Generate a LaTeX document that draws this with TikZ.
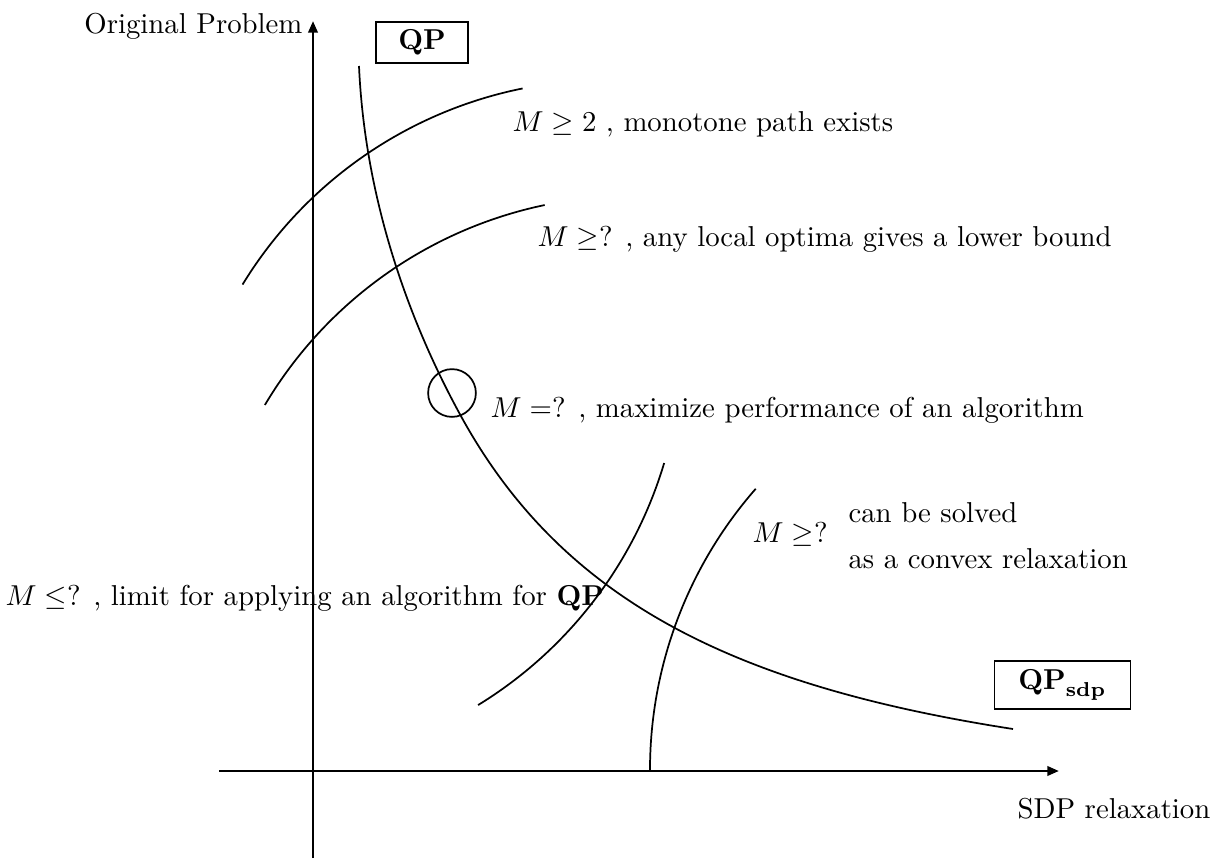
\documentclass[tikz,border=0pt]{standalone}
\usepackage{amsmath, amssymb}
\usepackage{tikz}
\usetikzlibrary{arrows.meta}

\begin{document}
\begin{tikzpicture}[x=0.3475pt,y=-0.3475pt,
    >={Stealth[inset=0pt,length=4pt,width=3.2pt]},
    lbl/.style={inner sep=0pt,anchor=base west},
    qpbox/.style={draw,thin,inner sep=0pt,font=\bfseries},
    axis/.style={->,line width=0.9pt},
    curve/.style={line width=0.6pt}]
  \useasboundingbox (0,0) rectangle (1216,862);
  % axes
  \coordinate (ybot) at (313,858);
  \coordinate (ytip) at (313,21);
  \coordinate (xleft) at (219,771);
  \coordinate (xtip) at (1059,771);
  \draw[axis] (ybot) -- (ytip);
  \draw[axis] (xleft) -- (xtip);
  \node[inner sep=0pt,anchor=base east] (orig) at (303,33) {Original Problem};
  \node[lbl] (relax) at (1017,818) {SDP relaxation};
  % the two problems
  \node[qpbox,minimum width=32pt,minimum height=14.2pt] (qp) at (422,42.5) {QP};
  \node[qpbox,minimum width=47pt,minimum height=16.7pt] (qpsdp) at (1062.5,685)
    {$\mathbf{QP}_{\mathbf{sdp}}$};
  % main curve
  \draw[curve] (359,66) .. controls (365,200) and (409,322) .. (462,418)
    .. controls (564,602) and (736,686) .. (1013,729);
  % level curves (arcs of equal radius)
  \draw[curve] (607,507) ++(211.4:427) arc[start angle=211.4,end angle=258.6,radius=427];
  \draw[curve] (632,623) ++(210.7:427) arc[start angle=210.7,end angle=258.2,radius=427];
  \draw[curve] (255,341) ++(58.5:427) arc[start angle=58.5,end angle=16.6,radius=427];
  \draw[curve] (1077,770) ++(180:427) arc[start angle=180,end angle=221.2,radius=427];
  \draw[curve] (452,393) circle[radius=8.3pt];
  % labels
  \node[lbl] (mono) at (512,131) {$M \geq 2$ , monotone path exists};
  \node[lbl] (local) at (537,246) {$M \geq$? , any local optima gives a lower bound};
  \node[lbl] (perf) at (490,417) {$M =$? , maximize performance of an algorithm};
  \node[lbl] (limit) at (5,605) {$M \leq$? , limit for applying an algorithm for \textbf{QP}};
  \node[lbl] (conv) at (752,542) {$M \geq$?};
  \node[lbl] (solved) at (848,522) {can be solved};
  \node[lbl] (asconv) at (848,568) {as a convex relaxation};
\end{tikzpicture}
\end{document}
